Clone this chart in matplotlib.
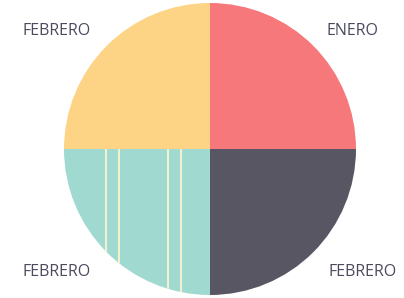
import matplotlib
matplotlib.use("Agg")
import matplotlib.pyplot as plt

# wedges clockwise from 12 o'clock
months = ["ENERO", "FEBRERO", "FEBRERO", "FEBRERO"]
shares = [25, 25, 25, 25]
colours = ["#F6787B", "#585663", "#9FD9D0", "#FDD486"]

# label anchors in pixel space (x, y from bottom, ha)
label_pos = [(379, 267, "right"), (397, 25.5, "right"), (22, 25.5, "left"), (22, 267, "left")]
stripe_x = [106, 118.5, 167.5, 181]

fig = plt.figure(figsize=(4.04, 2.98), dpi=100)
ax = fig.add_axes([0, 0, 1, 1])

wedges, _ = ax.pie(shares, colors=colours, startangle=90, counterclock=False,
                   center=(210, 149), radius=146, frame=True,
                   wedgeprops=dict(linewidth=0))
ax.set_xlim(0, 404)
ax.set_ylim(0, 298)
ax.axis("off")

teal = wedges[2]
for x in stripe_x:
    ln = ax.axvline(x, color="#F2F1CF", linewidth=1.5)
    ln.set_clip_path(teal)

for name, (x, y, ha) in zip(months, label_pos):
    ax.text(x, y, name, ha=ha, va="center", fontsize=11.5,
            family="Open Sans", color="#4C4B5E")

fig.savefig("out.png", dpi=100, facecolor="white")
